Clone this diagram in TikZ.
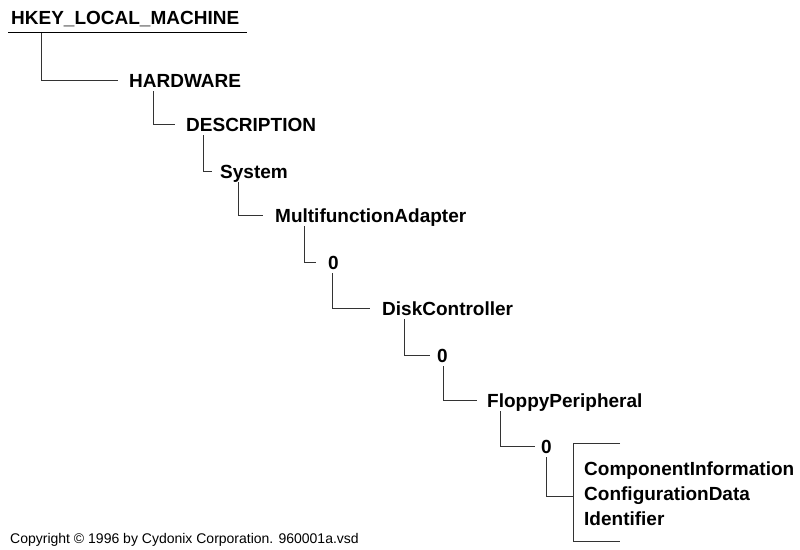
\documentclass[tikz,border=0pt]{standalone}
\usepackage{fontspec}
\setmainfont{Liberation Sans}
\usetikzlibrary{positioning}

\begin{document}
\begin{tikzpicture}[x=1pt, y=-1pt]
            \tikzstyle{key}=[anchor=base west, inner sep=0pt, font=\fontsize{19}{22}\selectfont\bfseries]
            \tikzstyle{link}=[draw=black!80, line width=0.9pt]

            \useasboundingbox (0,0) rectangle (800,549);

            \node[key] at (11,24) (hklm) {HKEY\_LOCAL\_MACHINE};
            \node[key] at (129,87) (hw) {HARDWARE};
            \node[key] at (186,131) (desc) {DESCRIPTION};
            \node[key] at (220,178) (sys) {System};
            \node[key] at (275,222) (mfa) {MultifunctionAdapter};
            \node[key] at (328,269) (mfa0) {0};
            \node[key] at (382,315) (dc) {DiskController};
            \node[key] at (437,362) (dc0) {0};
            \node[key] at (487,407) (fp) {FloppyPeripheral};
            \node[key] at (541,453) (fp0) {0};
            \node[key] at (584,475) (ci) {ComponentInformation};
            \node[key] at (584,500) (cd) {ConfigurationData};
            \node[key] at (584,525) (id) {Identifier};
            \node[anchor=base west, inner sep=0pt, font=\fontsize{14}{16}\selectfont] at (10,543) (copy)
                {Copyright \textcopyright{} 1996 by Cydonix Corporation. 960001a.vsd};

            \draw[line width=1.6pt] ([xshift=-3pt,yshift=-8.5pt]hklm.base west) -- ([xshift=236pt,yshift=-8.5pt]hklm.base west);

            \draw[link] ([xshift=30pt,yshift=-9pt]hklm.base west) |- ([xshift=-11pt,yshift=7pt]hw.base west);
            \draw[link] ([xshift=24pt,yshift=-4pt]hw.base west) |- ([xshift=-11pt,yshift=7pt]desc.base west);
            \draw[link] ([xshift=17pt,yshift=-4pt]desc.base west) |- ([xshift=-8pt,yshift=7pt]sys.base west);
            \draw[link] ([xshift=18pt,yshift=-4pt]sys.base west) |- ([xshift=-12pt,yshift=7pt]mfa.base west);
            \draw[link] ([xshift=29pt,yshift=-4pt]mfa.base west) |- ([xshift=-12pt,yshift=7pt]mfa0.base west);
            \draw[link] ([xshift=4pt,yshift=-4pt]mfa0.base west) |- ([xshift=-12pt,yshift=7pt]dc.base west);
            \draw[link] ([xshift=22pt,yshift=-4pt]dc.base west) |- ([xshift=-7pt,yshift=7pt]dc0.base west);
            \draw[link] ([xshift=6pt,yshift=-4pt]dc0.base west) |- ([xshift=-10pt,yshift=7pt]fp.base west);
            \draw[link] ([xshift=13pt,yshift=-4pt]fp.base west) |- ([xshift=-6pt,yshift=7pt]fp0.base west);
            \draw[link] ([xshift=5pt,yshift=-4pt]fp0.base west) |- ([xshift=-11pt,yshift=4pt]cd.base west);

            \draw[link] ([xshift=36pt,yshift=32pt]ci.base west) -- ([xshift=-11pt,yshift=32pt]ci.base west)
                -- ([xshift=-11pt,yshift=-16pt]id.base west) -- ([xshift=36pt,yshift=-16pt]id.base west);

          \end{tikzpicture}
\end{document}
